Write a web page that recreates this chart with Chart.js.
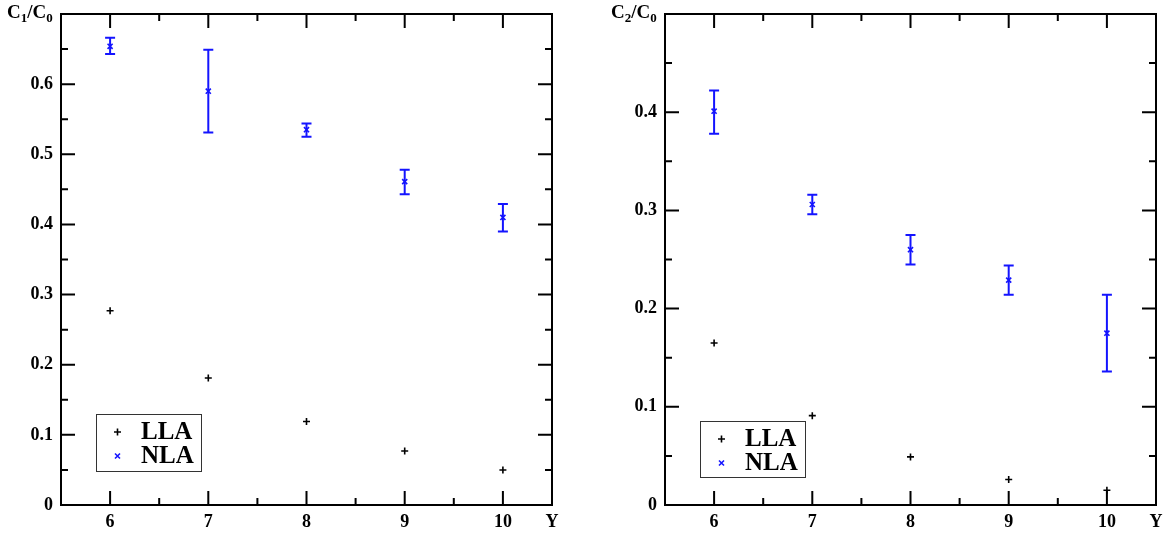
<!DOCTYPE html>
<html><head><meta charset="utf-8">
<script src="https://cdn.jsdelivr.net/npm/chart.js@4"></script>
<style>
html,body{margin:0;padding:0;background:#fff;}
#wrap{position:relative;width:1167px;height:536px;overflow:hidden;}
canvas{position:absolute;top:0;}
</style></head><body>
<div id="wrap">
<canvas id="left" width="583" height="536" style="left:0;width:583px;height:536px"></canvas>
<canvas id="right" width="584" height="536" style="left:583px;width:584px;height:536px"></canvas>
</div>
<script>
// ---- data ----
const yValues = [6, 7, 8, 9, 10];
const c1LLA = [0.277, 0.181, 0.119, 0.077, 0.050];
const c1NLA = [0.654, 0.590, 0.535, 0.461, 0.410];
const c1NLALow = [0.643, 0.531, 0.525, 0.443, 0.390];
const c1NLAHigh = [0.666, 0.649, 0.544, 0.478, 0.429];
const c2LLA = [0.165, 0.091, 0.049, 0.026, 0.015];
const c2NLA = [0.401, 0.306, 0.260, 0.229, 0.175];
const c2NLALow = [0.378, 0.296, 0.245, 0.214, 0.136];
const c2NLAHigh = [0.422, 0.316, 0.275, 0.244, 0.214];
const seriesNames = ['LLA', 'NLA'];
const xTickLabelEnd = 'Y';

const BLUE = '#1414ff';
const SERIF = "'Liberation Serif', 'DejaVu Serif', serif";

function pts(xs, ys) { return xs.map((x, i) => ({x: x, y: ys[i]})); }

const framePlugin = {
  id: 'frame',
  beforeDatasetsDraw(chart) {
    const o = chart.options.plugins.frame;
    const {ctx, scales: {x, y}} = chart;
    ctx.save();
    ctx.strokeStyle = BLUE; ctx.lineWidth = 2;
    o.low.forEach((lo, i) => {
      const px = x.getPixelForValue(yValues[i]);
      const p1 = y.getPixelForValue(lo), p2 = y.getPixelForValue(o.high[i]);
      ctx.beginPath();
      ctx.moveTo(px, p1); ctx.lineTo(px, p2);
      ctx.moveTo(px - 5, p1); ctx.lineTo(px + 5, p1);
      ctx.moveTo(px - 5, p2); ctx.lineTo(px + 5, p2);
      ctx.stroke();
    });
    ctx.restore();
  },
  afterDraw(chart) {
    const o = chart.options.plugins.frame;
    const {ctx, chartArea: {left, right, top, bottom}, scales: {x, y}} = chart;
    ctx.save();
    ctx.strokeStyle = '#000'; ctx.lineWidth = 2; ctx.lineCap = 'butt';
    ctx.strokeRect(left, top, right - left, bottom - top);
    ctx.beginPath();
    x.ticks.forEach(t => {
      const px = x.getPixelForValue(t.value);
      const len = Number.isInteger(t.value) ? 14 : 7;
      ctx.moveTo(px, bottom); ctx.lineTo(px, bottom - len);
      ctx.moveTo(px, top); ctx.lineTo(px, top + len);
    });
    y.ticks.forEach(t => {
      const py = y.getPixelForValue(t.value);
      const major = Math.round(t.value * 20) % 2 === 0;
      const len = major ? 14 : 7;
      ctx.moveTo(left, py); ctx.lineTo(left + len, py);
      ctx.moveTo(right, py); ctx.lineTo(right - len, py);
    });
    ctx.stroke();
    // title with subscripts
    ctx.fillStyle = '#000';
    ctx.textBaseline = 'alphabetic';
    let cx = o.titleX;
    const base = 18;
    const parts = [['C', false], [o.sub, true], ['/C', false], ['0', true]];
    parts.forEach(([s, sub]) => {
      ctx.font = (sub ? 'bold 13px ' : 'bold 19px ') + SERIF;
      ctx.fillText(s, cx, sub ? base + 4 : base);
      cx += ctx.measureText(s).width;
    });
    // legend
    const L = o.legend;
    ctx.lineWidth = 1; ctx.strokeStyle = '#333';
    ctx.strokeRect(L.x + 0.5, L.y + 0.5, L.w, L.h);
    ctx.font = 'bold 25px ' + SERIF;
    ctx.textBaseline = 'middle';
    const rows = [L.y + 18, L.y + 42];
    // + marker
    ctx.lineWidth = 1.6; ctx.strokeStyle = '#000';
    ctx.beginPath();
    ctx.moveTo(L.x + 18, rows[0]); ctx.lineTo(L.x + 25, rows[0]);
    ctx.moveTo(L.x + 21.5, rows[0] - 3.5); ctx.lineTo(L.x + 21.5, rows[0] + 3.5);
    ctx.stroke();
    ctx.strokeStyle = BLUE;
    ctx.beginPath();
    ctx.moveTo(L.x + 19, rows[1] - 2.5); ctx.lineTo(L.x + 24, rows[1] + 2.5);
    ctx.moveTo(L.x + 24, rows[1] - 2.5); ctx.lineTo(L.x + 19, rows[1] + 2.5);
    ctx.stroke();
    ctx.fillStyle = '#000';
    ctx.fillText(seriesNames[0], L.x + 45, rows[0] + 1);
    ctx.fillText(seriesNames[1], L.x + 45, rows[1] + 1);
    ctx.restore();
  }
};

function makeChart(id, lla, nla, low, high, ymax, padRight, yWidth, sub, titleX, legend) {
  new Chart(document.getElementById(id), {
    type: 'scatter',
    data: {
      datasets: [
        {label: seriesNames[0], data: pts(yValues, lla), pointStyle: 'cross', radius: 3.5,
         borderColor: '#000', backgroundColor: '#000', borderWidth: 1.6},
        {label: seriesNames[1], data: pts(yValues, nla), pointStyle: 'crossRot', radius: 3.6,
         borderColor: BLUE, backgroundColor: BLUE, borderWidth: 1.6}
      ]
    },
    options: {
      responsive: false, animation: false, devicePixelRatio: 1,
      layout: {padding: {left: 0, top: 14, right: padRight, bottom: 0}},
      plugins: {
        legend: {display: false}, tooltip: {enabled: false},
        frame: {low: low, high: high, sub: sub, titleX: titleX, legend: legend}
      },
      scales: {
        x: {
          type: 'linear', min: 5.5, max: 10.5,
          grid: {display: false, drawTicks: false}, border: {display: false},
          ticks: {
            stepSize: 0.5, autoSkip: false, maxRotation: 0, padding: 7,
            color: '#000', font: {family: SERIF, size: 18, weight: 'bold'},
            callback: v => v === 10.5 ? xTickLabelEnd : (Number.isInteger(v) ? String(v) : '')
          },
          afterFit: s => { s.height = 31; s.paddingLeft = 0; s.paddingRight = 0; }
        },
        y: {
          type: 'linear', min: 0, max: ymax,
          grid: {display: false, drawTicks: false}, border: {display: false},
          ticks: {
            stepSize: 0.05, autoSkip: false, padding: 8,
            color: '#000', font: {family: SERIF, size: 18, weight: 'bold'},
            callback: v => {
              const k = Math.round(v * 20);
              if (k % 2 !== 0 || Math.abs(v - ymax) < 1e-9) return '';
              return k === 0 ? '0' : (k / 20).toFixed(1);
            }
          },
          afterFit: s => { s.width = yWidth; s.paddingTop = 0; s.paddingBottom = 0; }
        }
      }
    },
    plugins: [framePlugin]
  });
}

makeChart('left', c1LLA, c1NLA, c1NLALow, c1NLAHigh, 0.7, 31, 61, '1', 7,
  {x: 96, y: 414, w: 105, h: 57});
makeChart('right', c2LLA, c2NLA, c2NLALow, c2NLAHigh, 0.5, 11, 82, '2', 28,
  {x: 117, y: 421, w: 105, h: 56});
</script>
</body></html>
